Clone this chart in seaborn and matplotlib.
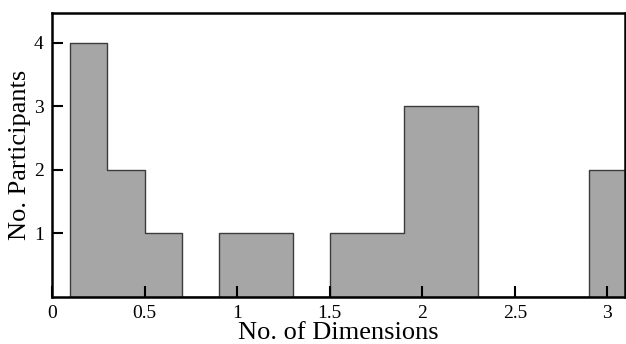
import numpy as np
import pandas as pd
import matplotlib
matplotlib.use("Agg")
import matplotlib.pyplot as plt
import seaborn as sns

# Bin centres (width 0.2) and participant counts
bin_centres = [0.2, 0.4, 0.6, 1.0, 1.2, 1.6, 1.8, 2.0, 2.2, 3.0]
counts = [4, 2, 1, 1, 1, 1, 1, 3, 3, 2]

data = pd.DataFrame({"dims": np.repeat(bin_centres, counts)})

sns.set_style("ticks")
plt.rcParams["font.family"] = ["Liberation Serif", "DejaVu Serif"]

fig = plt.figure(figsize=(6.26, 3.44), dpi=100)
ax = fig.add_axes([0.083, 0.1375, 0.915, 0.8255])

sns.histplot(data=data, x="dims", binwidth=0.2, binrange=(0.1, 3.1),
             element="step", fill=True, color="#a6a6a6", alpha=1,
             edgecolor="#3c3c3c", linewidth=1.0, ax=ax)
# keep the ticks drawn over the bars
for c in ax.collections + ax.lines:
    c.set_zorder(0.5)
ax.set_axisbelow(False)

ax.set_xlim(0, 3.094)
ax.set_ylim(0, 4.47)
ax.set_xticks([0, 0.5, 1, 1.5, 2, 2.5, 3])
ax.set_xticklabels(["0", "0.5", "1", "1.5", "2", "2.5", "3"])
ax.set_yticks([1, 2, 3, 4])

ax.tick_params(direction="in", length=8, width=1.5, labelsize=14,
               colors="black", pad=6)
for s in ax.spines.values():
    s.set_linewidth(1.8)
    s.set_color("black")

ax.set_xlabel("No. of Dimensions", fontsize=19, color="black", labelpad=0)
ax.set_ylabel("No. Participants", fontsize=19, color="black", labelpad=2)

plt.savefig("out.png", dpi=100)
